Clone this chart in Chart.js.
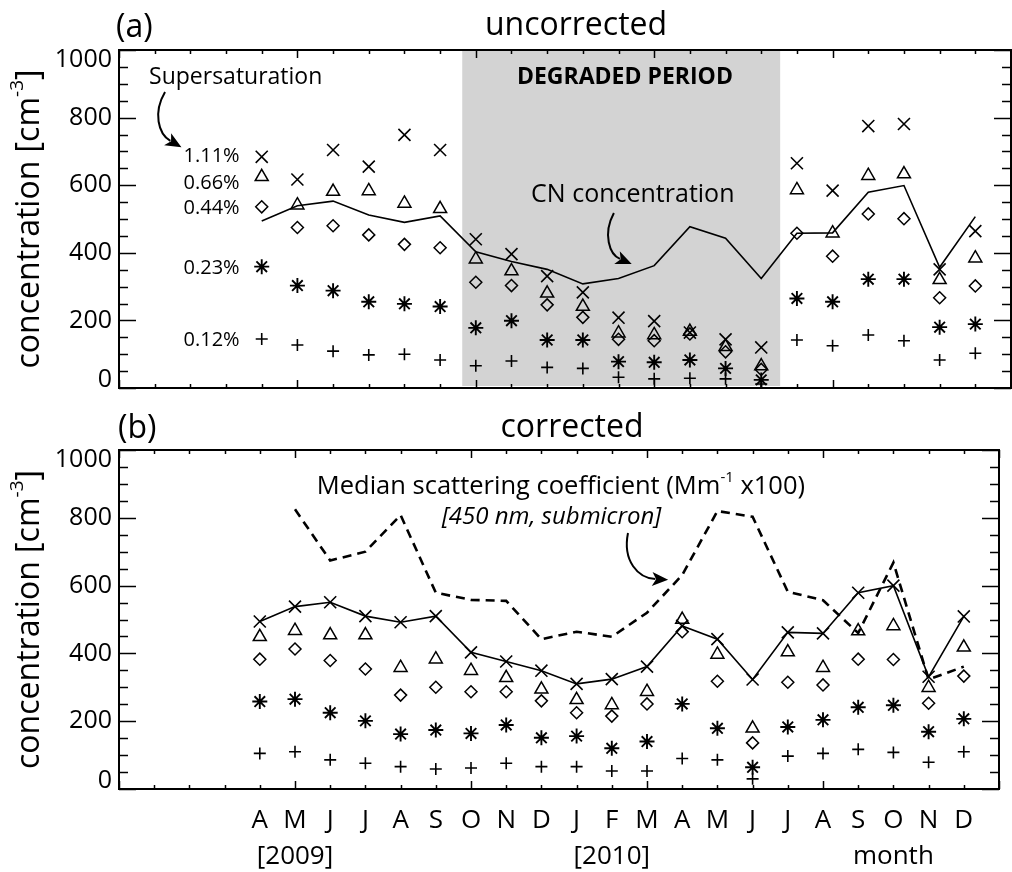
<!DOCTYPE html>
<html>
<head>
<meta charset="utf-8">
<script src="https://cdn.jsdelivr.net/npm/chart.js@4.4.0/dist/chart.umd.min.js"></script>
<style>
  body { margin: 0; background: #fff; }
  #wrap { position: relative; width: 1012px; height: 872px; }
  canvas { position: absolute; left: 0; }
</style>
</head>
<body>
<div id="wrap">
  <canvas id="chartA" width="1012" height="400" style="top:0px"></canvas>
  <canvas id="chartB" width="1012" height="472" style="top:400px"></canvas>
</div>
<script>
// x positions are months: 0 = Dec 2008 ... 25 = Jan 2011, data run Apr 2009 (4) .. Dec 2010 (24)
var firstMonth = 4;
var monthLetters = ["A", "M", "J", "J", "A", "S", "O", "N", "D", "J", "F", "M", "A", "M", "J", "J", "A", "S", "O", "N", "D"];
var secondLine = { 5: "[2009]", 14: "[2010]", 22: "month" };

// (a) uncorrected CCN by supersaturation
var ss111a = [684, 617, 704, 655, 749, 704, 440, 396, 331, 283, 208, 198, 164, 144, 120, 665, 584, 775, 781, 351, 464];
var ss066a = [625, 541, 581, 583, 546, 530, 381, 346, 280, 241, 162, 157, 167, 122, 65, 586, 458, 628, 633, 320, 384];
var ss044a = [536, 475, 480, 453, 425, 415, 313, 303, 246, 209, 144, 140, 160, 107, 55, 458, 390, 515, 501, 267, 302];
var ss023a = [359, 303, 288, 255, 249, 241, 178, 199, 142, 142, 78, 76, 83, 58, 24, 265, 255, 322, 322, 180, 189];
var ss012a = [145, 127, 109, 98, 100, 83, 66, 80, 61, 58, 32, 27, 29, 27, 12, 142, 125, 157, 140, 83, 103];
var cnConc = [494, 539, 553, 512, 490, 509, 403, 374, 351, 308, 324, 362, 477, 443, 324, 458, 459, 579, 599, 357, 507];

// (b) corrected
var ss111b = [494, 538, 551, 510, 492, 510, 403, 376, 349, 310, 324, 361, 481, 442, 323, 462, 459, 579, 600, 331, 509];
var ss066b = [449, 467, 454, 454, 358, 383, 349, 328, 294, 263, 248, 287, 500, 397, 179, 404, 358, 466, 481, 299, 418];
var ss044b = [383, 413, 379, 354, 277, 300, 287, 287, 260, 225, 215, 251, 464, 318, 136, 315, 307, 383, 382, 253, 333];
var ss023b = [258, 265, 225, 201, 162, 174, 164, 189, 151, 156, 120, 140, 251, 179, 64, 183, 204, 241, 247, 169, 207];
var ss012b = [105, 110, 86, 76, 66, 59, 62, 76, 66, 66, 53, 53, 90, 86, 30, 97, 105, 117, 108, 79, 110];
// scattering coefficient (Mm-1 x100), May 2009 .. Dec 2010
var scatFirst = 5;
var scatter450 = [825, 674, 700, 808, 579, 558, 555, 442, 464, 449, 520, 631, 820, 803, 582, 557, 460, 668, 323, 361];

// degraded period (month units)
var degradedFrom = 9.62, degradedTo = 18.53;

var FONT = "'Open Sans', 'Noto Sans', sans-serif";

function toPoints(vals, start) {
    return vals.map(function (v, i) { return { x: start + i, y: v }; });
}

function markers(label, vals, style, radius, width) {
    return {
        label: label,
        data: toPoints(vals, firstMonth),
        showLine: false,
        pointStyle: style,
        pointRadius: radius,
        pointHoverRadius: radius,
        pointBorderColor: '#000',
        pointBackgroundColor: 'rgba(0,0,0,0)',
        pointBorderWidth: width,
        borderColor: '#000'
    };
}

function pt(chart, xv, yv) {
    return [chart.scales.x.getPixelForValue(xv), chart.scales.y.getPixelForValue(yv)];
}

function drawLine(ctx, x1, y1, x2, y2) {
    ctx.beginPath();
    ctx.moveTo(x1, y1);
    ctx.lineTo(x2, y2);
    ctx.stroke();
}

function curvedArrow(chart, p0, c1, c2, p3) {
    var ctx = chart.ctx;
    var a = pt(chart, p0[0], p0[1]), b = pt(chart, c1[0], c1[1]),
        c = pt(chart, c2[0], c2[1]), d = pt(chart, p3[0], p3[1]);
    var ang = Math.atan2(d[1] - c[1], d[0] - c[0]);
    var headLen = 16, headW = 7;
    var bx = d[0] - Math.cos(ang) * headLen * 0.8, by = d[1] - Math.sin(ang) * headLen * 0.8;
    ctx.save();
    ctx.strokeStyle = '#000';
    ctx.lineWidth = 2;
    ctx.beginPath();
    ctx.moveTo(a[0], a[1]);
    ctx.bezierCurveTo(b[0], b[1], c[0], c[1], bx, by);
    ctx.stroke();
    ctx.fillStyle = '#000';
    ctx.beginPath();
    ctx.moveTo(d[0], d[1]);
    ctx.lineTo(d[0] - Math.cos(ang) * headLen - Math.sin(ang) * headW, d[1] - Math.sin(ang) * headLen + Math.cos(ang) * headW);
    ctx.lineTo(d[0] - Math.cos(ang) * headLen * 0.75, d[1] - Math.sin(ang) * headLen * 0.75);
    ctx.lineTo(d[0] - Math.cos(ang) * headLen + Math.sin(ang) * headW, d[1] - Math.sin(ang) * headLen - Math.cos(ang) * headW);
    ctx.closePath();
    ctx.fill();
    ctx.restore();
}

// text with a superscript piece: parts = [normal, sup, normal]
function supText(ctx, parts, x, y, size, align) {
    ctx.font = size + 'px ' + FONT;
    var w0 = ctx.measureText(parts[0]).width;
    var w2 = ctx.measureText(parts[2]).width;
    ctx.font = Math.round(size * 0.6) + 'px ' + FONT;
    var w1 = ctx.measureText(parts[1]).width;
    var total = w0 + w1 + w2;
    var sx = align === 'center' ? x - total / 2 : x;
    ctx.textAlign = 'left';
    ctx.font = size + 'px ' + FONT;
    ctx.fillText(parts[0], sx, y);
    ctx.font = Math.round(size * 0.6) + 'px ' + FONT;
    ctx.fillText(parts[1], sx + w0, y - size * 0.38);
    ctx.font = size + 'px ' + FONT;
    ctx.fillText(parts[2], sx + w0 + w1, y);
}

// box with inward ticks on all sides, y tick labels, y title
var framePlugin = {
    id: 'frame',
    afterDraw: function (chart) {
        var ctx = chart.ctx, a = chart.chartArea, x = chart.scales.x, y = chart.scales.y;
        ctx.save();
        ctx.strokeStyle = '#000';
        ctx.lineWidth = 1.5;
        y.ticks.forEach(function (t) {
            var py = Math.round(y.getPixelForValue(t.value)) + 0.5;
            var len = t.value % 200 === 0 ? 17 : 9;
            drawLine(ctx, a.left, py, a.left + len, py);
            drawLine(ctx, a.right, py, a.right - len, py);
        });
        x.ticks.forEach(function (t) {
            var px = Math.round(x.getPixelForValue(t.value)) + 0.5;
            var len = t.value % 5 === 0 ? 8 : 4;
            drawLine(ctx, px, a.bottom, px, a.bottom - len);
            drawLine(ctx, px, a.top, px, a.top + len);
        });
        ctx.lineWidth = 2;
        ctx.strokeRect(a.left, a.top, a.right - a.left, a.bottom - a.top);

        ctx.fillStyle = '#000';
        ctx.font = '25px ' + FONT;
        ctx.textAlign = 'right';
        ctx.textBaseline = 'middle';
        y.ticks.forEach(function (t) {
            if (t.value % 200 !== 0) return;
            var py = y.getPixelForValue(t.value);
            if (t.value === y.max) py += 10;
            if (t.value === y.min) py -= 8;
            ctx.fillText(String(t.value), a.left - 7, py);
        });

        ctx.translate(30, (a.top + a.bottom) / 2);
        ctx.rotate(-Math.PI / 2);
        ctx.textBaseline = 'middle';
        supText(ctx, ['concentration [cm', '-3', ']'], 0, 0, 32, 'center');
        ctx.restore();
    }
};

var shadePlugin = {
    id: 'shade',
    beforeDatasetsDraw: function (chart) {
        var ctx = chart.ctx, a = chart.chartArea, x = chart.scales.x;
        var x1 = x.getPixelForValue(degradedFrom), x2 = x.getPixelForValue(degradedTo);
        ctx.save();
        ctx.fillStyle = '#d3d3d3';
        ctx.fillRect(x1, a.top, x2 - x1, a.bottom - a.top - 2);
        ctx.restore();
    }
};

var notesA = {
    id: 'notesA',
    afterDraw: function (chart) {
        var ctx = chart.ctx, p;
        ctx.save();
        ctx.fillStyle = '#000';
        ctx.textBaseline = 'alphabetic';
        ctx.font = '32px ' + FONT;
        ctx.textAlign = 'left';
        ctx.fillText('(a)', 116, 37);
        ctx.textAlign = 'center';
        ctx.fillText('uncorrected', 576, 35);

        ctx.textBaseline = 'middle';
        ctx.font = '23px ' + FONT;
        p = pt(chart, 3.27, 920);
        ctx.fillText('Supersaturation', p[0], p[1]);

        ctx.font = 'bold 23px ' + FONT;
        p = pt(chart, 14.18, 920);
        ctx.fillText('DEGRADED PERIOD', p[0], p[1]);

        ctx.font = '25px ' + FONT;
        p = pt(chart, 14.4, 571);
        ctx.fillText('CN concentration', p[0], p[1]);

        ctx.font = '20px ' + FONT;
        ctx.textAlign = 'right';
        [['1.11%', 686], ['0.66%', 607], ['0.44%', 533], ['0.23%', 355], ['0.12%', 142]].forEach(function (l) {
            var q = pt(chart, 3.38, l[1]);
            ctx.fillText(l[0], q[0], q[1]);
        });
        ctx.restore();

        curvedArrow(chart, [1.29, 876], [0.95, 815], [1.1, 752], [1.75, 712]);
        curvedArrow(chart, [13.87, 518], [13.55, 455], [13.75, 395], [14.37, 367]);
    }
};

var notesB = {
    id: 'notesB',
    afterDraw: function (chart) {
        var ctx = chart.ctx, p;
        ctx.save();
        ctx.fillStyle = '#000';
        ctx.textBaseline = 'alphabetic';
        ctx.font = '32px ' + FONT;
        ctx.textAlign = 'left';
        ctx.fillText('(b)', 118, 38);
        ctx.textAlign = 'center';
        ctx.fillText('corrected', 572, 37);

        ctx.textBaseline = 'middle';
        p = pt(chart, 5.62, 891);
        supText(ctx, ['Median scattering coefficient (Mm', '-1', ' x100)'], p[0], p[1], 25.5, 'left');
        ctx.font = 'italic 24px ' + FONT;
        ctx.textAlign = 'left';
        p = pt(chart, 9.17, 802);
        ctx.fillText('[450 nm, submicron]', p[0], p[1]);
        ctx.restore();

        curvedArrow(chart, [14.46, 755], [14.3, 672], [14.75, 622], [15.6, 617]);
    }
};

function yScale() {
    return {
        type: 'linear', min: 0, max: 1000,
        ticks: { display: false, stepSize: 50, maxTicksLimit: 100 },
        grid: { display: false, drawTicks: false },
        border: { display: false },
        afterFit: function (s) { s.width = 119; }
    };
}

function tickLabel(v) {
    var i = v - firstMonth;
    if (i < 0 || i >= monthLetters.length) return '';
    if (secondLine[v]) return [monthLetters[i], secondLine[v]];
    return monthLetters[i];
}

var common = {
    responsive: false,
    animation: false,
    devicePixelRatio: 1,
    plugins: { legend: { display: false }, tooltip: { enabled: false } },
    elements: { line: { tension: 0 } }
};

new Chart(document.getElementById('chartA').getContext('2d'), {
    type: 'line',
    data: {
        datasets: [
            {
                label: 'CN concentration',
                data: toPoints(cnConc, firstMonth),
                borderColor: '#000', borderWidth: 1.6, pointRadius: 0, fill: false
            },
            markers('1.11%', ss111a, 'crossRot', 8.5, 1.6),
            markers('0.66%', ss066a, 'triangle', 7.5, 1.5),
            markers('0.44%', ss044a, 'rectRot', 6, 1.5),
            markers('0.23%', ss023a, 'star', 7.5, 1.9),
            markers('0.12%', ss012a, 'cross', 6, 1.6)
        ]
    },
    options: Object.assign({}, common, {
        layout: { autoPadding: false, padding: { top: 50, bottom: 12, left: 0, right: 1 } },
        scales: {
            x: {
                type: 'linear', min: 0, max: 25,
                ticks: { display: false, stepSize: 1, maxTicksLimit: 100 },
                grid: { display: false, drawTicks: false },
                border: { display: false },
                afterFit: function (s) { s.height = 0; }
            },
            y: yScale()
        }
    }),
    plugins: [shadePlugin, framePlugin, notesA]
});

new Chart(document.getElementById('chartB').getContext('2d'), {
    type: 'line',
    data: {
        datasets: [
            {
                label: '1.11%',
                data: toPoints(ss111b, firstMonth),
                borderColor: '#000', borderWidth: 1.6, fill: false,
                pointStyle: 'crossRot', pointRadius: 8.5, pointBorderWidth: 1.6,
                pointBorderColor: '#000', pointBackgroundColor: 'rgba(0,0,0,0)'
            },
            {
                label: 'Median scattering coefficient',
                data: toPoints(scatter450, scatFirst),
                borderColor: '#000', borderWidth: 2.6, borderDash: [9, 6],
                pointRadius: 0, fill: false
            },
            markers('0.66%', ss066b, 'triangle', 7.5, 1.5),
            markers('0.44%', ss044b, 'rectRot', 6, 1.5),
            markers('0.23%', ss023b, 'star', 7.5, 1.9),
            markers('0.12%', ss012b, 'cross', 6, 1.6)
        ]
    },
    options: Object.assign({}, common, {
        layout: { autoPadding: false, padding: { top: 50, bottom: 0, left: 0, right: 1 } },
        scales: {
            x: {
                type: 'linear', min: 0, max: 25,
                ticks: {
                    stepSize: 1, maxTicksLimit: 100, autoSkip: false,
                    maxRotation: 0, minRotation: 0, padding: 13, color: '#000',
                    font: { family: FONT, size: 26, lineHeight: 1.4 },
                    callback: tickLabel
                },
                grid: { display: false, drawTicks: false },
                border: { display: false },
                afterFit: function (s) { s.height = 83; }
            },
            y: yScale()
        }
    }),
    plugins: [framePlugin, notesB]
});
</script>
</body>
</html>
